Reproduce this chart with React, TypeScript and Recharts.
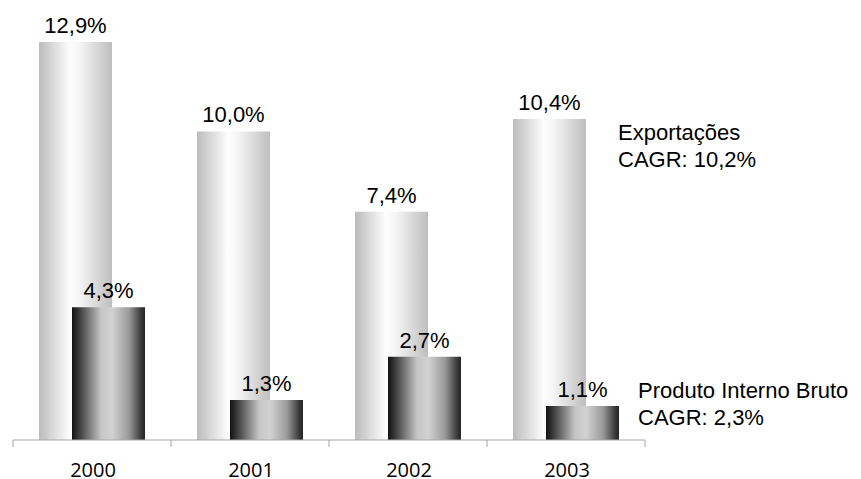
import { BarChart, Bar, XAxis, YAxis, LabelList } from "recharts";

const years = ["2000", "2001", "2002", "2003"];
const exportacoes = [12.9, 10.0, 7.4, 10.4];
const pib = [4.3, 1.3, 2.7, 1.1];

const data = years.map((ano, i) => ({ ano, exportacoes: exportacoes[i], pib: pib[i] }));

const WIDTH = 853;
const HEIGHT = 471;
const MARGIN = { top: 0, right: 216, bottom: 0, left: 5 };
const BAND = (WIDTH - MARGIN.left - MARGIN.right) / years.length;

const LABEL_FONT = "'Liberation Sans', Arial, sans-serif";
const AXIS_COLOR = "#a6a6a6";

const fmt = (v: unknown) => `${Number(v).toFixed(1).replace(".", ",")}%`;

// boundary tick marks between categories + year label
function YearTick(props: any) {
  const { x, y, payload, index } = props;
  const left = x - BAND / 2;
  const right = x + BAND / 2;
  return (
    <g>
      <line x1={left} x2={left} y1={y} y2={y + 7} stroke={AXIS_COLOR} />
      {index === years.length - 1 && (
        <line x1={right} x2={right} y1={y} y2={y + 7} stroke={AXIS_COLOR} />
      )}
      <text
        x={x + 1}
        y={y + 37}
        textAnchor="middle"
        fontSize={20}
        fontFamily="'Open Sans', sans-serif"
        fill="#000"
      >
        {payload.value}
      </text>
    </g>
  );
}

export default function App() {
  return (
    <div style={{ position: "relative", width: WIDTH, height: HEIGHT }}>
      <BarChart
        width={WIDTH}
        height={HEIGHT}
        data={data}
        margin={MARGIN}
        barSize={73}
        barGap={-40}
      >
        <defs>
          <linearGradient id="gradExp" x1="0" y1="0" x2="1" y2="0">
            <stop offset="0%" stopColor="#bcbcbc" />
            <stop offset="42%" stopColor="#fdfdfd" />
            <stop offset="55%" stopColor="#f6f6f6" />
            <stop offset="100%" stopColor="#bebebe" />
          </linearGradient>
          <linearGradient id="gradPib" x1="0" y1="0" x2="1" y2="0">
            <stop offset="0%" stopColor="#121212" />
            <stop offset="10%" stopColor="#3c3c3c" />
            <stop offset="40%" stopColor="#c6c6c6" />
            <stop offset="55%" stopColor="#d2d2d2" />
            <stop offset="78%" stopColor="#9a9a9a" />
            <stop offset="95%" stopColor="#383838" />
            <stop offset="100%" stopColor="#242424" />
          </linearGradient>
        </defs>
        <XAxis
          dataKey="ano"
          height={39}
          axisLine={{ stroke: AXIS_COLOR }}
          tickLine={false}
          tickSize={0}
          tickMargin={0}
          interval={0}
          tick={<YearTick />}
        />
        <YAxis hide domain={[0, 14]} />
        <Bar dataKey="exportacoes" fill="url(#gradExp)" isAnimationActive={false}>
          <LabelList
            dataKey="exportacoes"
            position="top"
            offset={9}
            formatter={fmt}
            fill="#000"
            fontSize={22}
            fontFamily={LABEL_FONT}
          />
        </Bar>
        <Bar dataKey="pib" fill="url(#gradPib)" isAnimationActive={false}>
          <LabelList
            dataKey="pib"
            position="top"
            offset={9}
            formatter={fmt}
            fill="#000"
            fontSize={22}
            fontFamily={LABEL_FONT}
          />
        </Bar>
      </BarChart>
      <svg
        width={WIDTH}
        height={HEIGHT}
        style={{ position: "absolute", left: 0, top: 0, pointerEvents: "none" }}
        fontFamily={LABEL_FONT}
        fontSize={22}
        fill="#000"
      >
        <text x={610} y={132}>Exportações</text>
        <text x={610} y={159}>CAGR: 10,2%</text>
        <text x={630} y={390}>Produto Interno Bruto</text>
        <text x={630} y={417}>CAGR: 2,3%</text>
      </svg>
    </div>
  );
}
